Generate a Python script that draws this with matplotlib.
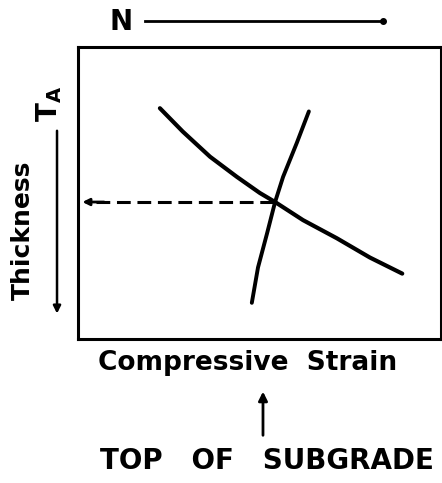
import matplotlib
matplotlib.use('Agg')
from matplotlib import pyplot as plt

# curves (arbitrary units, axes 0..10)
decr_x = [2.26, 2.89, 3.64, 4.38, 5.01, 5.43, 6.20, 7.13, 8.04, 8.93]
decr_y = [7.90, 7.10, 6.24, 5.55, 5.00, 4.69, 4.07, 3.45, 2.79, 2.24]
incr_x = [4.79, 4.96, 5.21, 5.43, 5.65, 6.03, 6.36]
incr_y = [1.24, 2.45, 3.62, 4.69, 5.55, 6.72, 7.79]
cross_x, cross_y = 5.43, 4.69

fig = plt.figure(figsize=(4.42, 4.83), dpi=100)
ax = fig.add_axes([0.176, 0.298, 0.822, 0.605])
ax.set_xlim(0, 10)
ax.set_ylim(0, 10)
ax.set_xticks([])
ax.set_yticks([])
for s in ax.spines.values():
    s.set_linewidth(2.2)

ax.plot(decr_x, decr_y, color='black', lw=3, solid_capstyle='round', solid_joinstyle='round')
ax.plot(incr_x, incr_y, color='black', lw=2.8, solid_capstyle='round', solid_joinstyle='round')
ax.plot([0.5, cross_x], [cross_y, cross_y], color='black', lw=2.2, ls=(0, (4.5, 2.2)))
ax.annotate('', xy=(0.05, cross_y), xytext=(0.8, cross_y),
            arrowprops=dict(arrowstyle='-|>', color='black', lw=2, mutation_scale=10))

font = dict(family='DejaVu Sans', weight='bold', color='black')
fig.text(0.559, 0.248, 'Compressive  Strain', ha='center', va='center', fontsize=19, **font)
fig.text(0.604, 0.045, 'TOP   OF   SUBGRADE', ha='center', va='center', fontsize=20, **font)
fig.text(0.052, 0.524, 'Thickness', ha='center', va='center', rotation=90, fontsize=18, **font)
fig.text(0.112, 0.785, 'T$_\\mathbf{A}$', ha='center', va='center', rotation=90, fontsize=20, **font)
fig.text(0.274, 0.954, 'N', ha='center', va='center', fontsize=20, **font)

# direction arrows outside the frame
fig.add_artist(plt.Line2D([0.328, 0.866], [0.957, 0.957], color='black', lw=2,
                          transform=fig.transFigure))
fig.add_artist(plt.Line2D([0.866], [0.957], marker='o', ms=4, color='black',
                          transform=fig.transFigure))
ax.annotate('', xy=(0.129, 0.345), xytext=(0.129, 0.735), xycoords='figure fraction',
            textcoords='figure fraction',
            arrowprops=dict(arrowstyle='-|>', color='black', lw=1.8, mutation_scale=11))
ax.annotate('', xy=(0.595, 0.195), xytext=(0.595, 0.093), xycoords='figure fraction',
            textcoords='figure fraction',
            arrowprops=dict(arrowstyle='-|>', color='black', lw=2, mutation_scale=13))

fig.savefig('out.png', dpi=100)
